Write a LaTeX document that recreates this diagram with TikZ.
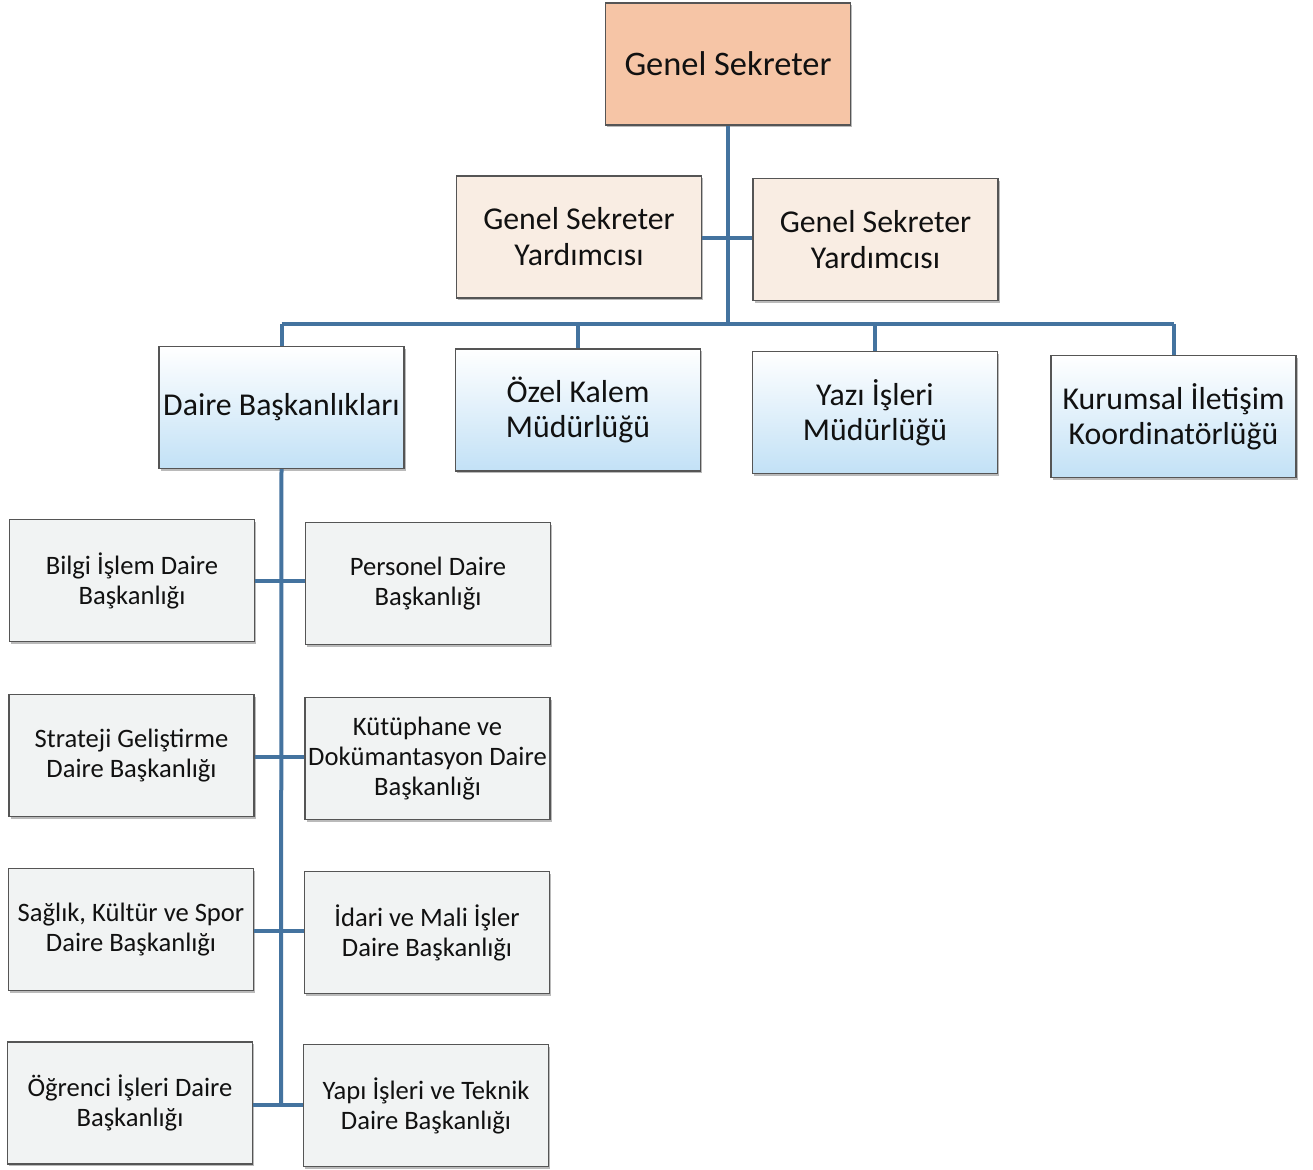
\documentclass[tikz,border=0pt]{standalone}
\usepackage{fontspec}
\setmainfont{Carlito}
\usetikzlibrary{shadows}
\definecolor{linkblue}{HTML}{44739F}
\definecolor{gsfill}{HTML}{F6C5A6}
\definecolor{gsyfill}{HTML}{F9EDE3}
\definecolor{bluebot}{HTML}{C2E1F6}
\definecolor{grayfill}{HTML}{F1F3F3}
\definecolor{edge}{HTML}{555555}
\definecolor{txt}{HTML}{111111}
\tikzset{
  orgbox/.style={draw=edge, line width=0.6pt, rectangle, minimum width=122.5pt, minimum height=61pt,
    inner sep=1pt, align=center, text=txt,
    drop shadow={shadow xshift=0.8pt, shadow yshift=-1.2pt, fill=black!45, opacity=0.6}},
  topbox/.style={orgbox, fill=gsfill, font=\fontsize{17.2}{20}\selectfont},
  depbox/.style={orgbox, fill=gsyfill, font=\fontsize{15.9}{18}\selectfont},
  bluebox/.style={orgbox, top color=white, bottom color=bluebot, font=\fontsize{15.9}{17.5}\selectfont},
  graybox/.style={orgbox, fill=grayfill, font=\fontsize{13.3}{15}\selectfont},
  link/.style={draw=linkblue, line width=2pt}
}
\begin{document}
\begin{tikzpicture}[x=0.5pt,y=-0.5pt]
\useasboundingbox (0,0) rectangle (1313,1169);
\fill[white] (0,0) rectangle (1313,1169);
% top
\node[topbox] (gs) at (728,64) {Genel Sekreter};
\node[depbox] (gsy1) at (579,237) {Genel Sekreter\\Yardımcısı};
\node[depbox] (gsy2) at (875.5,239.5) {Genel Sekreter\\Yardımcısı};
% level 3
\node[bluebox] (db) at (281.5,407.5) {Daire Başkanlıkları};
\node[bluebox] (ok) at (578,410) {Özel Kalem\\Müdürlüğü};
\node[bluebox] (yi) at (875,412.5) {Yazı İşleri\\Müdürlüğü};
\node[bluebox] (ki) at (1173.5,416.5) {Kurumsal İletişim\\Koordinatörlüğü};
% departments
\node[graybox] (bi) at (132,580.5) {Bilgi İşlem Daire\\Başkanlığı};
\node[graybox] (pe) at (428,583.5) {Personel Daire\\Başkanlığı};
\node[graybox] (st) at (131.5,755.5) {Strateji Geliştirme\\Daire Başkanlığı};
\node[graybox] (ku) at (427.5,758.5) {Kütüphane ve\\Dokümantasyon Daire\\Başkanlığı};
\node[graybox] (sa) at (131,929.5) {Sağlık, Kültür ve Spor\\Daire Başkanlığı};
\node[graybox] (id) at (427,932.5) {İdari ve Mali İşler\\Daire Başkanlığı};
\node[graybox] (og) at (130,1103) {Öğrenci İşleri Daire\\Başkanlığı};
\node[graybox] (ya) at (426,1105.5) {Yapı İşleri ve Teknik\\Daire Başkanlığı};
% junction coordinates
\coordinate (gsyj) at (728,238);
\coordinate (bar) at (728,324);
\coordinate (r1) at (281,581);
\coordinate (r2) at (281,757);
\coordinate (r3) at (281,931);
\coordinate (r4) at (281,1105);
% connectors
\draw[link] (gs.south) -- (bar);
\draw[link] (gsy1.east |- gsyj) -- (gsy2.west |- gsyj);
\draw[link] (db.north |- bar) -- (ki.north |- bar);
\draw[link] (db.north |- bar) -- (db.north);
\draw[link] (ok.north |- bar) -- (ok.north);
\draw[link] (yi.north |- bar) -- (yi.north);
\draw[link] (ki.north |- bar) -- (ki.north);
\draw[link] (db.south) -- (r4);
\draw[link] (bi.east |- r1) -- (pe.west |- r1);
\draw[link] (st.east |- r2) -- (ku.west |- r2);
\draw[link] (sa.east |- r3) -- (id.west |- r3);
\draw[link] (og.east |- r4) -- (ya.west |- r4);
\end{tikzpicture}
\end{document}
